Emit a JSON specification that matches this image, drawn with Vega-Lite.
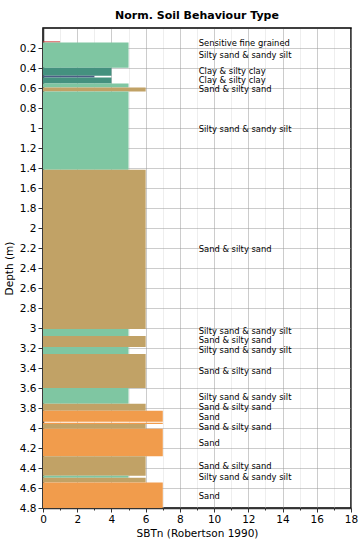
{
  "$schema": "https://vega.github.io/schema/vega-lite/v6.json",
  "width": 308,
  "height": 480,
  "autosize": {"type": "none"},
  "padding": {"left": 43, "top": 28, "right": 10, "bottom": 36},
  "background": "white",
  "title": {"text": "Norm. Soil Behaviour Type", "font": "DejaVu Sans", "fontSize": 11, "fontWeight": "bold", "color": "#000000", "offset": 7, "anchor": "middle"},
  "config": {
    "view": {"stroke": "#000000", "strokeWidth": 1.5},
    "axis": {
      "labelFont": "DejaVu Sans", "labelFontSize": 10.5, "labelColor": "#000000",
      "titleFont": "DejaVu Sans", "titleFontSize": 10.5, "titleFontWeight": "normal", "titleColor": "#000000",
      "domainColor": "#333333", "domainWidth": 1.5, "tickColor": "#333333", "tickWidth": 1,
      "gridDash": [1, 1], "gridColor": "#999999", "gridWidth": 1,
      "labelOverlap": false, "labelFlush": false, "labelBound": false
    }
  },
  "resolve": {"axis": {"x": "independent", "y": "independent"}},
  "datasets": {
    "layers": [
      {"top": 0.134, "bottom": 0.144, "zone": "1", "sbtn": 1},
      {"top": 0.144, "bottom": 0.397, "zone": "5", "sbtn": 5},
      {"top": 0.397, "bottom": 0.477, "zone": "4", "sbtn": 4},
      {"top": 0.477, "bottom": 0.494, "zone": "3", "sbtn": 3},
      {"top": 0.494, "bottom": 0.554, "zone": "4", "sbtn": 4},
      {"top": 0.554, "bottom": 0.594, "zone": "5", "sbtn": 5},
      {"top": 0.594, "bottom": 0.634, "zone": "6", "sbtn": 6},
      {"top": 0.634, "bottom": 1.417, "zone": "5", "sbtn": 5},
      {"top": 1.417, "bottom": 3.01, "zone": "6", "sbtn": 6},
      {"top": 3.01, "bottom": 3.08, "zone": "5", "sbtn": 5},
      {"top": 3.08, "bottom": 3.19, "zone": "6", "sbtn": 6},
      {"top": 3.19, "bottom": 3.26, "zone": "5", "sbtn": 5},
      {"top": 3.26, "bottom": 3.6, "zone": "6", "sbtn": 6},
      {"top": 3.6, "bottom": 3.757, "zone": "5", "sbtn": 5},
      {"top": 3.757, "bottom": 3.827, "zone": "6", "sbtn": 6},
      {"top": 3.827, "bottom": 3.937, "zone": "7", "sbtn": 7},
      {"top": 3.947, "bottom": 3.96, "zone": "7", "sbtn": 7},
      {"top": 3.96, "bottom": 4.007, "zone": "6", "sbtn": 6},
      {"top": 4.007, "bottom": 4.283, "zone": "7", "sbtn": 7},
      {"top": 4.283, "bottom": 4.477, "zone": "6", "sbtn": 6},
      {"top": 4.477, "bottom": 4.497, "zone": "5", "sbtn": 5},
      {"top": 4.497, "bottom": 4.545, "zone": "6", "sbtn": 6},
      {"top": 4.545, "bottom": 4.8, "zone": "7", "sbtn": 7}
    ],
    "labels": [
      {"depth": 0.145, "label": "Sensitive fine grained"},
      {"depth": 0.269, "label": "Silty sand & sandy silt"},
      {"depth": 0.434, "label": "Clay & silty clay"},
      {"depth": 0.522, "label": "Clay & silty clay"},
      {"depth": 0.614, "label": "Sand & silty sand"},
      {"depth": 1.005, "label": "Silty sand & sandy silt"},
      {"depth": 2.207, "label": "Sand & silty sand"},
      {"depth": 3.034, "label": "Silty sand & sandy silt"},
      {"depth": 3.124, "label": "Sand & silty sand"},
      {"depth": 3.224, "label": "Silty sand & sandy silt"},
      {"depth": 3.434, "label": "Sand & silty sand"},
      {"depth": 3.687, "label": "Silty sand & sandy silt"},
      {"depth": 3.794, "label": "Sand & silty sand"},
      {"depth": 3.886, "label": "Sand"},
      {"depth": 3.99, "label": "Sand & silty sand"},
      {"depth": 4.15, "label": "Sand"},
      {"depth": 4.38, "label": "Sand & silty sand"},
      {"depth": 4.494, "label": "Silty sand & sandy silt"},
      {"depth": 4.684, "label": "Sand"}
    ]
  },
  "layer": [
    {
      "data": {"name": "layers"},
      "mark": {"type": "rect"},
      "encoding": {
        "x": {
          "field": "sbtn", "type": "quantitative",
          "scale": {"domain": [0, 18], "nice": false, "zero": false},
          "axis": {
            "title": "SBTn (Robertson 1990)",
            "values": [0,1,2,3,4,5,6,7,8,9,10,11,12,13,14,15,16,17,18],
            "labelExpr": "datum.value % 2 ? '' : datum.label",
            "tickSize": {"condition": {"test": "datum.value % 2", "value": 2}, "value": 4},
            "gridColor": {"condition": {"test": "datum.value % 2", "value": "#dddddd"}, "value": "#999999"},
            "labelOverlap": false,
            "labelFlush": false,
            "labelBound": false,
            "labelPadding": 2,
            "titlePadding": 4
          }
        },
        "x2": {"datum": 0},
        "y": {
          "field": "top", "type": "quantitative",
          "scale": {"domain": [0, 4.8], "nice": false, "zero": false, "reverse": true},
          "axis": {
            "title": "Depth (m)",
            "values": [0.2,0.4,0.6,0.8,1,1.2,1.4,1.6,1.8,2,2.2,2.4,2.6,2.8,3,3.2,3.4,3.6,3.8,4,4.2,4.4,4.6,4.8],
            "format": "~g",
            "labelOverlap": false,
            "labelFlush": false,
            "labelBound": false,
            "tickSize": 5,
            "labelPadding": 2,
            "titlePadding": 5
          }
        },
        "y2": {"field": "bottom"},
        "color": {
          "field": "zone", "type": "nominal",
          "scale": {"domain": ["1", "3", "4", "5", "6", "7"], "range": ["#d03030", "#4c5c85", "#44917f", "#7fc6a2", "#c1a266", "#f19c4c"]},
          "legend": null
        }
      }
    },
    {
      "data": {"name": "labels"},
      "mark": {"type": "text", "align": "left", "baseline": "middle", "font": "DejaVu Sans Condensed", "fontSize": 9.3, "color": "#000000"},
      "encoding": {
        "x": {"datum": 9.1, "type": "quantitative", "axis": null},
        "y": {"field": "depth", "type": "quantitative", "axis": null},
        "text": {"field": "label"}
      }
    }
  ]
}
